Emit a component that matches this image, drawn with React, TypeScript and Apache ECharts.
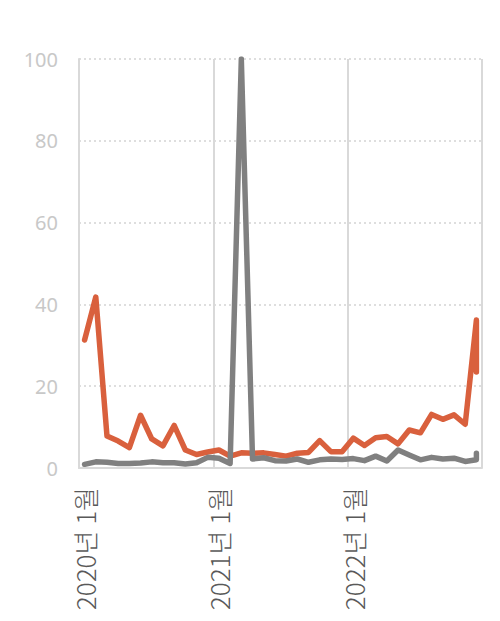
import React, { useEffect, useRef } from "react";
import * as echarts from "echarts";

const categories = [
  "2020년 1월", "2020년 2월", "2020년 3월", "2020년 4월", "2020년 5월", "2020년 6월",
  "2020년 7월", "2020년 8월", "2020년 9월", "2020년 10월", "2020년 11월", "2020년 12월",
  "2021년 1월", "2021년 2월", "2021년 3월", "2021년 4월", "2021년 5월", "2021년 6월",
  "2021년 7월", "2021년 8월", "2021년 9월", "2021년 10월", "2021년 11월", "2021년 12월",
  "2022년 1월", "2022년 2월", "2022년 3월", "2022년 4월", "2022년 5월", "2022년 6월",
  "2022년 7월", "2022년 8월", "2022년 9월", "2022년 10월", "2022년 11월", "2022년 12월",
];

// month of each data point (the last month holds two readings)
const pointMonths = [...categories, "2022년 12월"];

const orangeValues = [
  31.3, 41.8, 7.8, 6.6, 5.0, 12.9, 7.1, 5.4, 10.4, 4.4, 3.3, 3.9,
  4.4, 2.9, 3.7, 3.6, 3.7, 3.3, 2.9, 3.6, 3.8, 6.7, 4.0, 4.0,
  7.3, 5.5, 7.4, 7.7, 5.9, 9.3, 8.6, 13.1, 11.9, 13.0, 10.7, 36.2, 23.5,
];

const grayValues = [
  0.9, 1.5, 1.4, 1.1, 1.1, 1.2, 1.5, 1.3, 1.3, 1.0, 1.3, 2.6,
  2.4, 1.1, 100, 2.2, 2.5, 1.8, 1.7, 2.2, 1.4, 2.0, 2.2, 2.1,
  2.3, 1.8, 2.9, 1.7, 4.4, 3.2, 2.0, 2.6, 2.2, 2.4, 1.6, 2.0, 3.6,
];

const yTicks = { min: 0, max: 100, interval: 20 };

export default function App() {
  const ref = useRef<HTMLDivElement>(null);
  useEffect(() => {
    if (!ref.current) return;
    const chart = echarts.init(ref.current, undefined, { renderer: "svg" });
    const pair = (vals: number[]) => vals.map((v, i) => [pointMonths[i], v]);
    chart.setOption({
      animation: false,
      grid: { left: 79, right: 18, top: 59, bottom: 153, containLabel: false },
      xAxis: {
        type: "category",
        data: categories,
        boundaryGap: true,
        axisLine: { show: true, lineStyle: { color: "#d9d9d9", width: 2 } },
        axisTick: { show: false, interval: 11 },
        axisLabel: {
          interval: 11,
          rotate: 90,
          margin: 19,
          color: "#595959",
          fontSize: 26,
          fontWeight: 300,
          fontFamily: "Noto Sans CJK KR",
        },
        splitLine: {
          show: true,
          interval: 11,
          lineStyle: { color: "#d9d9d9", width: 2, type: "solid" },
        },
      },
      yAxis: {
        type: "value",
        min: yTicks.min,
        max: yTicks.max,
        interval: yTicks.interval,
        axisLine: { show: true, lineStyle: { color: "#d9d9d9", width: 2 } },
        axisTick: { show: false },
        axisLabel: {
          color: "#c8c8c8",
          fontSize: 20,
          margin: 21,
          fontFamily: "Noto Sans",
        },
        splitLine: {
          show: true,
          lineStyle: { color: "#d4d4d4", width: 1.5, type: [2, 3] },
        },
      },
      series: [
        {
          type: "line",
          data: pair(orangeValues),
          symbol: "none",
          lineStyle: { color: "#d9603d", width: 5.5, cap: "round", join: "round" },
          itemStyle: { color: "#d9603d" },
        },
        {
          type: "line",
          data: pair(grayValues),
          symbol: "none",
          lineStyle: { color: "#808080", width: 5.5, cap: "round", join: "round" },
          itemStyle: { color: "#808080" },
        },
      ],
    });
    return () => chart.dispose();
  }, []);
  return (
    <div
      ref={ref}
      style={{ position: "fixed", left: 0, top: 0, width: 500, height: 621, background: "#fff" }}
    />
  );
}
